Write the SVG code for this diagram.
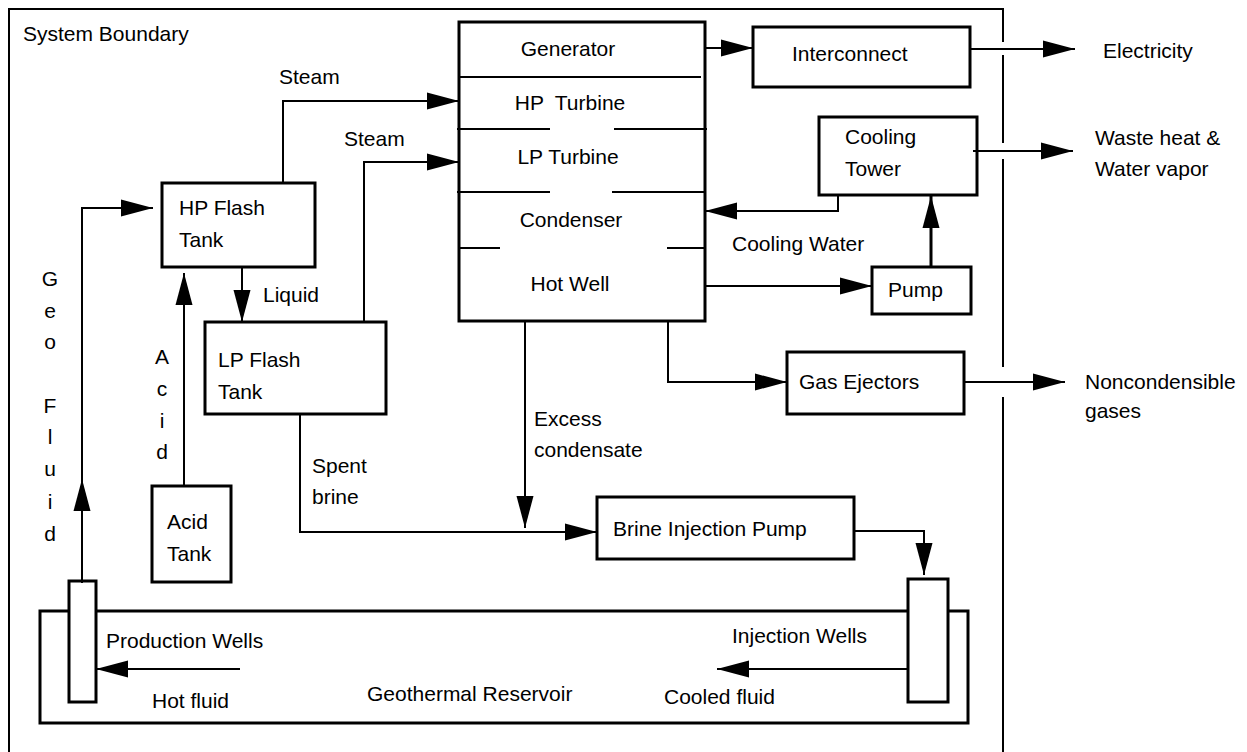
<svg xmlns="http://www.w3.org/2000/svg" width="1247" height="752" viewBox="0 0 1247 752">
<style>
text{font-family:"Liberation Sans",Arial,sans-serif;font-size:21px;fill:#000}
.box{fill:#fff;stroke:#000;stroke-width:3}
.ln{fill:none;stroke:#000;stroke-width:2}
.mid{text-anchor:middle}
</style>
<defs>
<marker id="ah" markerUnits="userSpaceOnUse" markerWidth="32" markerHeight="18" refX="32" refY="8.5" orient="auto" viewBox="0 0 32 17">
<path d="M0,0 L32,8.5 L0,17 z" fill="#000"/>
</marker>
</defs>
<rect width="1247" height="752" fill="#fff"/>
<g id="boundary">
<path class="ln" d="M9,752 V9 H1003 V42 M1003,55 V143 M1003,159 V367 M1003,397 V752"/>
<text x="23" y="41">System Boundary</text>
</g>
<g id="reservoir">
<rect class="box" x="40" y="611" width="928" height="112"/>
<text x="367" y="701">Geothermal Reservoir</text>
</g>
<g id="production-wells">
<rect class="box" x="69" y="581" width="27" height="121"/>
<text x="106" y="648">Production Wells</text>
</g>
<g id="injection-wells">
<rect class="box" x="908" y="579" width="40" height="123"/>
<text x="732" y="643">Injection Wells</text>
</g>
<g id="hp-flash">
<rect class="box" x="162" y="183" width="153" height="84"/>
<text x="179" y="215">HP Flash</text>
<text x="179" y="247">Tank</text>
</g>
<g id="lp-flash">
<rect class="box" x="205" y="322" width="181" height="92"/>
<text x="218" y="367">LP Flash</text>
<text x="218" y="399">Tank</text>
</g>
<g id="acid-tank">
<rect class="box" x="152" y="486" width="79" height="96"/>
<text x="167" y="529">Acid</text>
<text x="167" y="561">Tank</text>
</g>
<g id="power-block">
<rect class="box" x="459" y="22" width="246" height="299"/>
<path class="ln" d="M459,77 H701 M457,129 H550 M614,129 H707 M457,192 H550 M612,192 H705 M459,248 H500 M667,248 H705"/>
<text class="mid" x="568" y="56">Generator</text>
<text class="mid" x="570" y="110" xml:space="preserve">HP  Turbine</text>
<text class="mid" x="568" y="164">LP Turbine</text>
<text class="mid" x="571" y="227">Condenser</text>
<text class="mid" x="570" y="291">Hot Well</text>
</g>
<g id="interconnect">
<rect class="box" x="753" y="27" width="217" height="60"/>
<text x="792" y="61">Interconnect</text>
</g>
<g id="cooling-tower">
<rect class="box" x="819" y="117" width="158" height="78"/>
<text x="845" y="144">Cooling</text>
<text x="845" y="176">Tower</text>
</g>
<g id="pump">
<rect class="box" x="872" y="267" width="99" height="47"/>
<text x="888" y="297">Pump</text>
</g>
<g id="gas-ejectors">
<rect class="box" x="787" y="352" width="177" height="62"/>
<text x="799" y="389">Gas Ejectors</text>
</g>
<g id="brine-pump">
<rect class="box" x="597" y="497" width="257" height="62"/>
<text x="613" y="536">Brine Injection Pump</text>
</g>
<g id="outputs">
<text x="1103" y="58">Electricity</text>
<text x="1095" y="145">Waste heat &amp;</text>
<text x="1095" y="176">Water vapor</text>
<text x="1085" y="389">Noncondensible</text>
<text x="1085" y="418">gases</text>
</g>
<g id="connectors">
<path class="ln" marker-end="url(#ah)" d="M82,583 V479"/>
<path class="ln" marker-end="url(#ah)" d="M82,479 V208 H153"/>
<path class="ln" marker-end="url(#ah)" d="M184,486 V273"/>
<path class="ln" marker-end="url(#ah)" d="M242,267 V322"/>
<path class="ln" marker-end="url(#ah)" d="M283,182 V101 H459"/>
<path class="ln" marker-end="url(#ah)" d="M364,322 V162 H459"/>
<path class="ln" marker-end="url(#ah)" d="M705,48 H753"/>
<path class="ln" marker-end="url(#ah)" d="M970,49 H1075"/>
<path class="ln" marker-end="url(#ah)" d="M973,151 H1073"/>
<path class="ln" marker-end="url(#ah)" d="M838,196 V211 H705"/>
<path class="ln" marker-end="url(#ah)" d="M705,286 H872"/>
<path class="ln" style="stroke-width:3" marker-end="url(#ah)" d="M931,267 V196"/>
<path class="ln" marker-end="url(#ah)" d="M668,321 V382 H787"/>
<path class="ln" marker-end="url(#ah)" d="M964,382 H1065"/>
<path class="ln" marker-end="url(#ah)" d="M525,321 V528"/>
<path class="ln" marker-end="url(#ah)" d="M300,414 V532 H597"/>
<path class="ln" marker-end="url(#ah)" d="M854,531 H924 V575"/>
<path class="ln" marker-end="url(#ah)" d="M240,669 H96"/>
<path class="ln" marker-end="url(#ah)" d="M908,669 H717"/>
<text x="279" y="84">Steam</text>
<text x="344" y="146">Steam</text>
<text x="263" y="302">Liquid</text>
<text x="312" y="473">Spent</text>
<text x="312" y="504">brine</text>
<text x="534" y="426">Excess</text>
<text x="534" y="457">condensate</text>
<text x="732" y="251">Cooling Water</text>
<text x="152" y="708">Hot fluid</text>
<text x="664" y="704">Cooled fluid</text>
<g class="mid">
<text class="mid" x="50" y="286">G</text>
<text class="mid" x="50" y="318">e</text>
<text class="mid" x="50" y="349">o</text>
<text class="mid" x="50" y="413">F</text>
<text class="mid" x="50" y="444">l</text>
<text class="mid" x="50" y="476">u</text>
<text class="mid" x="50" y="509">i</text>
<text class="mid" x="50" y="541">d</text>
<text class="mid" x="162" y="364">A</text>
<text class="mid" x="162" y="396">c</text>
<text class="mid" x="162" y="428">i</text>
<text class="mid" x="162" y="459">d</text>
</g>
</g>
</svg>
